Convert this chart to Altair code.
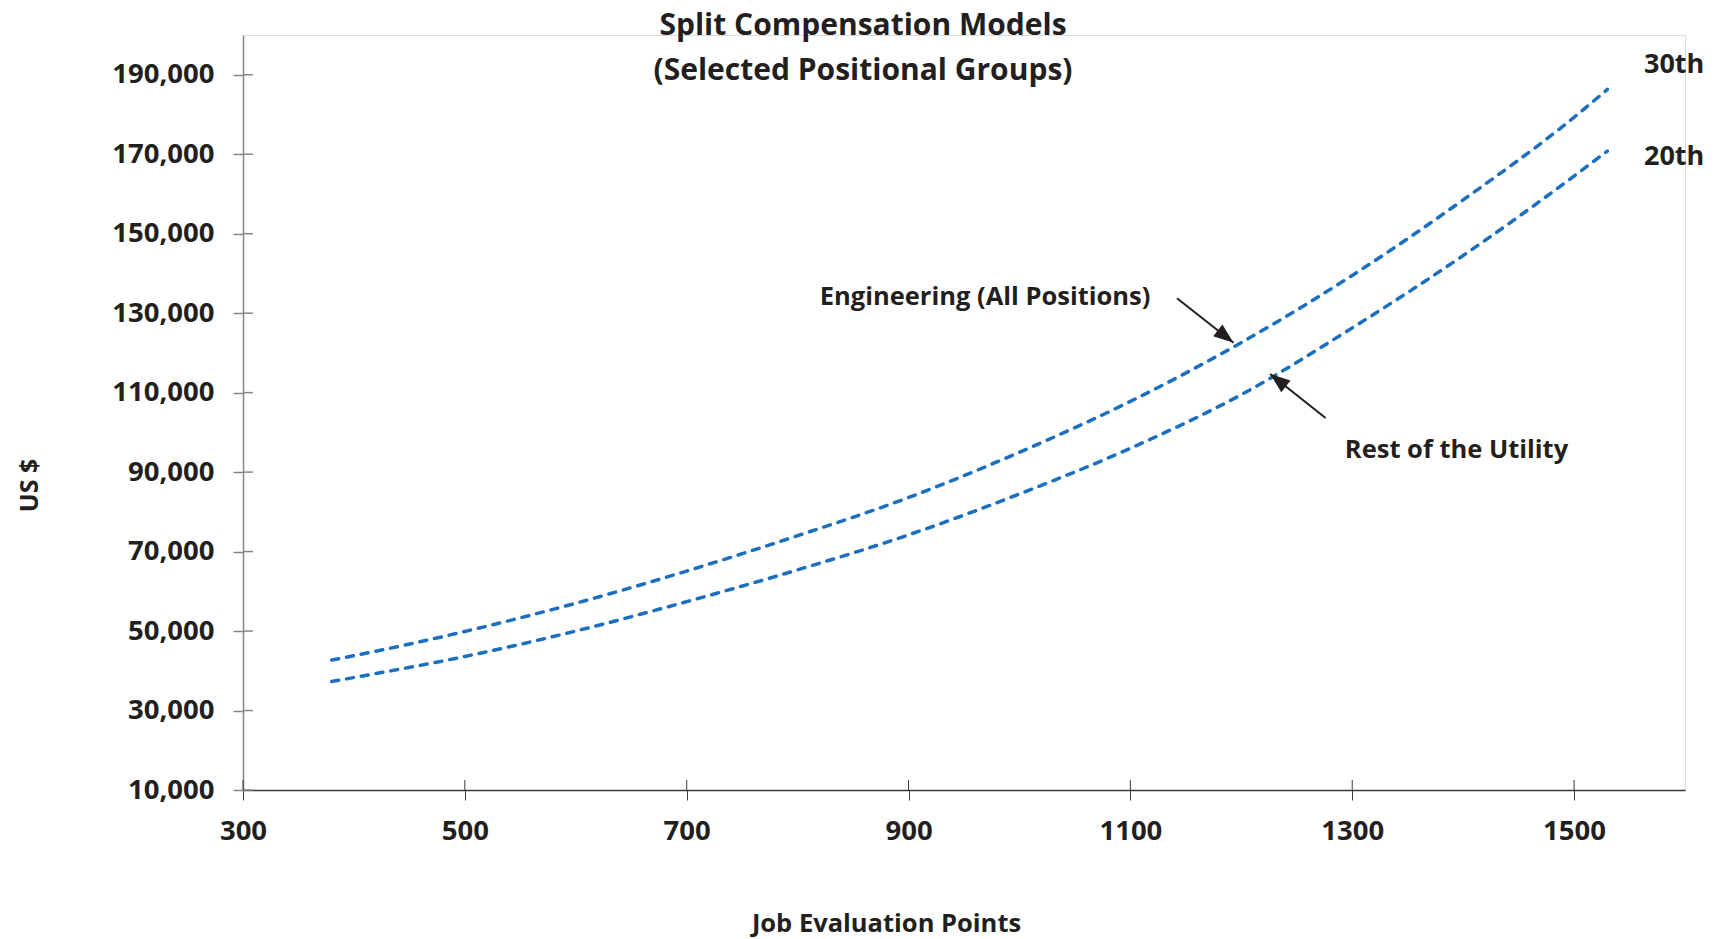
import altair as alt
import pandas as pd

# ---- data ----
points = [380, 400, 500, 600, 700, 800, 900, 1000, 1100, 1200, 1300, 1400, 1500, 1530]
engineering = [42700, 43800, 49900, 57000, 65100, 74000, 83600, 95000, 107800, 122600,
               139500, 158500, 179300, 186300]
rest_of_utility = [37300, 38300, 43600, 50000, 57400, 65400, 74200, 84500, 96000, 109500,
                   126300, 144500, 164500, 170800]
series_names = ["Engineering (All Positions)", "Rest of the Utility"]

x_ticks = [300, 500, 700, 900, 1100, 1300, 1500]
y_ticks = [10000, 30000, 50000, 70000, 90000, 110000, 130000, 150000, 170000, 190000]

# annotation anchors (data units)
label_text = ["Engineering (All Positions)", "Rest of the Utility"]
label_x = [969, 1394]
label_y = [132050, 93480]
pct_text = ["30th", "20th"]
pct_x = [1563, 1563]
pct_y = [190370, 167290]
arrow_x = [1142, 1276]
arrow_y = [133740, 103620]
arrow_x2 = [1193, 1226]
arrow_y2 = [122570, 114690]
arrow_angle = [128, 308]

BLUE = "#1c6fbf"
TXT = "#231f20"
FONT = "Open Sans"
W, H = 1442, 755

df = pd.DataFrame({
    "points": points + points,
    "pay": engineering + rest_of_utility,
    "series": [series_names[0]] * len(points) + [series_names[1]] * len(points),
})

xscale = alt.Scale(domain=[300, 1600], nice=False, zero=False)
yscale = alt.Scale(domain=[10000, 200000], nice=False, zero=False)

x_axis = alt.Axis(values=x_ticks, format="d", grid=False, tickSize=10, tickColor="#3a3a3a",
                  tickWidth=1, domainColor="#3a3a3a", domainWidth=1.5, labelPadding=17,
                  labelFlush=False,
                  labelFont=FONT, labelFontSize=27.5, labelFontWeight="bold", labelColor=TXT,
                  title="Job Evaluation Points", titleFont=FONT, titleFontSize=25.5,
                  titleFontWeight="bold", titleColor=TXT, titleX=643, titleY=141,
                  titleAlign="center", titleBaseline="alphabetic")
y_axis = alt.Axis(values=y_ticks, format=",d", grid=False, tickSize=10, tickColor="#868686",
                  tickWidth=1.5, domainColor="#868686", domainWidth=1.5, labelPadding=19,
                  labelFlush=False,
                  labelFont=FONT, labelFontSize=27.5, labelFontWeight="bold", labelColor=TXT,
                  title="US $", titleFont=FONT, titleFontSize=25, titleFontWeight="bold",
                  titleColor=TXT, titleAngle=270, titleX=-206, titleY=450,
                  titleAlign="center", titleBaseline="alphabetic")

lines = alt.Chart(df).mark_line(
    interpolate="monotone", strokeDash=[7, 8], strokeCap="round", strokeWidth=3.5, color=BLUE
).encode(
    x=alt.X("points:Q", scale=xscale, axis=x_axis),
    y=alt.Y("pay:Q", scale=yscale, axis=y_axis),
    detail="series:N",
)

ytick_df = pd.DataFrame({"v": y_ticks})
xtick_df = pd.DataFrame({"v": x_ticks})
ytick_in = alt.Chart(ytick_df).mark_rule(color="#868686", strokeWidth=1.5).encode(
    y=alt.Y("v:Q", scale=yscale), x=alt.value(0), x2=alt.value(10))
xtick_in = alt.Chart(xtick_df).mark_rule(color="#3a3a3a", strokeWidth=1).encode(
    x=alt.X("v:Q", scale=xscale), y=alt.value(H - 10), y2=alt.value(H))

lab_df = pd.DataFrame({"t": label_text, "x": label_x, "y": label_y})
labels = alt.Chart(lab_df).mark_text(
    font=FONT, fontSize=25.5, fontWeight="bold", color=TXT, align="center", baseline="alphabetic"
).encode(x=alt.X("x:Q", scale=xscale), y=alt.Y("y:Q", scale=yscale), text="t:N")

pct_df = pd.DataFrame({"t": pct_text, "x": pct_x, "y": pct_y})
pcts = alt.Chart(pct_df).mark_text(
    font=FONT, fontSize=27, fontWeight="bold", color=TXT, align="left", baseline="alphabetic"
).encode(x=alt.X("x:Q", scale=xscale), y=alt.Y("y:Q", scale=yscale), text="t:N")

arr_df = pd.DataFrame({"x": arrow_x, "y": arrow_y, "x2": arrow_x2, "y2": arrow_y2})
arrow_lines = alt.Chart(arr_df).mark_rule(color=TXT, strokeWidth=2).encode(
    x=alt.X("x:Q", scale=xscale), y=alt.Y("y:Q", scale=yscale), x2="x2:Q", y2="y2:Q")

heads = []
for i in range(len(arrow_x2)):
    hd = pd.DataFrame({"x": [arrow_x2[i]], "y": [arrow_y2[i]]})
    heads.append(alt.Chart(hd).mark_point(
        shape="M0,0L-0.75,2L0.75,2Z", size=400, filled=True, color=TXT, opacity=1,
        angle=arrow_angle[i], strokeWidth=0
    ).encode(x=alt.X("x:Q", scale=xscale), y=alt.Y("y:Q", scale=yscale)))

chart = alt.layer(lines, ytick_in, xtick_in, arrow_lines, *heads, labels, pcts).properties(
    width=W, height=H,
    title=alt.TitleParams(
        ["Split Compensation Models", "(Selected Positional Groups)"],
        anchor="middle", frame="group", dx=-101, dy=51, offset=0,
        font=FONT, fontSize=30, fontWeight="bold", color=TXT, lineHeight=45),
    autosize=alt.AutoSizeParams(type="none"),
    padding={"left": 235, "top": 27, "right": 20, "bottom": 148},
).configure_view(strokeOpacity=0, strokeWidth=0).configure(background="white")

chart.save("out.html", embed_options={"renderer": "svg", "actions": False})
